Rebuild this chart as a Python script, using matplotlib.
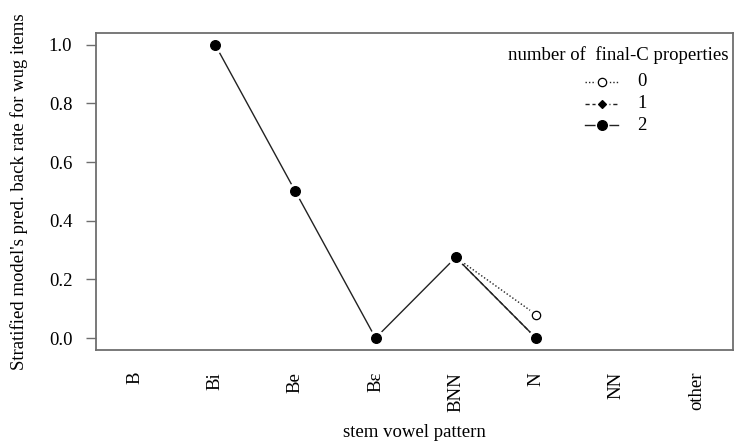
import matplotlib
matplotlib.use("Agg")
import matplotlib.pyplot as plt
from matplotlib.lines import Line2D
import numpy as np

# stem vowel pattern categories
CATEGORIES = ["B", "Bi", "Be", "B\u025b", "BNN", "N", "NN", "other"]

# predicted back rate per number of final-C properties (NaN = not shown)
SERIES_0 = [np.nan, np.nan, np.nan, np.nan, 0.275, 0.08, np.nan, np.nan]
SERIES_1 = [np.nan, np.nan, np.nan, np.nan, 0.275, 0.0, np.nan, np.nan]
SERIES_2 = [np.nan, 1.0, 0.5, 0.0, 0.275, 0.0, np.nan, np.nan]

SERIES_LABELS = ["0", "1", "2"]
Y_TICKS = [0.0, 0.2, 0.4, 0.6, 0.8, 1.0]

plt.rcParams["font.family"] = ["Liberation Serif", "DejaVu Serif"]
FS = 13.5
BOX = "#6e6e6e"
W, H = 735, 445

fig = plt.figure(figsize=(7.35, 4.45), dpi=100)
ax = fig.add_axes([0.1306, 0.214, 0.866, 0.712])

x = np.arange(1, len(CATEGORIES) + 1)
styles = [
    (SERIES_0, (0, (1, 1.5)), "o", "white", 6.0),
    (SERIES_1, (0, (3, 2)), "D", "black", 4.0),
    (SERIES_2, "-", "o", "black", 7.0),
]

for vals, ls, mk, fc, ms in styles:
    y = np.array(vals, dtype=float)
    # line with small gaps at the points (R type = "b")
    ax.plot(x, y, color="#222222", lw=1.0, ls=ls, zorder=2)
for vals, ls, mk, fc, ms in styles:
    y = np.array(vals, dtype=float)
    ax.plot(x, y, ls="none", marker="o", ms=11, mfc="white", mec="white", zorder=3)
for vals, ls, mk, fc, ms in styles:
    y = np.array(vals, dtype=float)
    ax.plot(x, y, ls="none", marker=mk, ms=ms, mfc=fc, mec="black", mew=0.9, zorder=4)

ax.set_xlim(0.515, 8.45)
ax.set_ylim(-0.04, 1.04)
ax.set_xticks(x)
ax.set_xticklabels(CATEGORIES, rotation=90, va="top", ha="center", fontsize=FS)
ax.tick_params(axis="x", length=0, pad=16)
ax.set_yticks(Y_TICKS)
ax.set_yticklabels([f"{v:.1f}" for v in Y_TICKS], fontsize=FS)
ax.tick_params(axis="y", length=7, width=1.0, color=BOX, pad=10, direction="out")
for sp in ax.spines.values():
    sp.set_color(BOX)
    sp.set_linewidth(1.3)

ax.set_xlabel("stem vowel pattern", fontsize=FS, labelpad=9)
ax.set_ylabel("Stratified model's pred. back rate for wug items", fontsize=FS, labelpad=15)

# legend, laid out like R's interaction.plot legend
fig.text(618.5 / W, 1 - 55 / H, "number of  final-C properties", fontsize=FS,
         ha="center", va="center")
for i, ((vals, ls, mk, fc, ms), lab) in enumerate(zip(styles, SERIES_LABELS)):
    yy = 1 - (82 + 21.5 * i) / H
    fig.add_artist(Line2D([585 / W, 618 / W], [yy, yy], color="#222222", lw=1.0, ls=ls,
                          transform=fig.transFigure))
    fig.add_artist(Line2D([601.5 / W], [yy], ls="none", marker="o", ms=9, mfc="white",
                          mec="white", transform=fig.transFigure))
    fig.add_artist(Line2D([601.5 / W], [yy], ls="none", marker=mk, ms=ms, mfc=fc,
                          mec="black", mew=0.9, transform=fig.transFigure))
    fig.text(637 / W, yy, lab, fontsize=FS, ha="left", va="center")

fig.savefig("out.png", dpi=100)
